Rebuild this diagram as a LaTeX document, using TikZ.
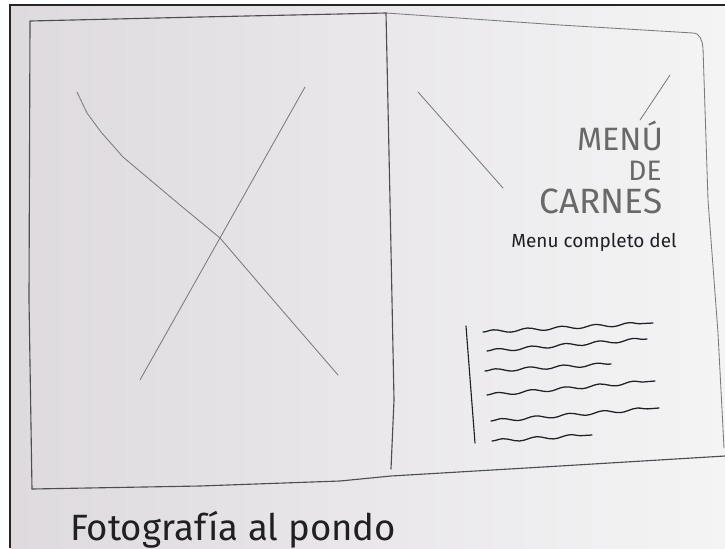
\documentclass[tikz,border=0pt]{standalone}
\usepackage{fontspec}
\setmainfont{Fira Sans}
\usetikzlibrary{decorations.pathmorphing}
\definecolor{paperl}{RGB}{222,218,222}
\definecolor{paperr}{RGB}{244,244,245}
\definecolor{pencil}{RGB}{78,78,80}
\definecolor{lead}{RGB}{32,32,35}
\tikzset{
	edge/.style={draw=pencil, line width=0.8pt, line join=round, line cap=round},
	faint/.style={edge, draw=pencil!75, line width=0.6pt},
	wave/.style={draw=lead, line width=0.9pt, line cap=round, decorate, decoration={snake, amplitude=0.04cm, segment length=0.85cm}},
	sketch/.style={text=pencil!85, inner sep=0pt},
	ink/.style={text=lead, inner sep=0pt}
}

\begin{document}
\begin{tikzpicture}[x=0.025cm, y=-0.025cm]
	\useasboundingbox (0,0) rectangle (725,548);
	\fill[white] (0,0) rectangle (725,548);
	\shade[left color=paperl, right color=paperr] (10,5) rectangle (725,548);
	\draw[black!85, line width=2pt] (10,548) -- (10,5) -- (725,5);

	\coordinate (tl) at (30,21);
	\coordinate (bl) at (32,489);
	\coordinate (tm) at (386,13);
	\coordinate (bm) at (391,469);
	\coordinate (tr) at (693,33);
	\coordinate (br) at (725,456);

	\draw[edge] (bl) -- (29,300) -- (tl) -- (200,17) -- (tm);
	\draw[faint] (tm) -- (560,25) -- (tr) to[out=0, in=95] (703,48) -- (708,200) -- (718,333) -- (724,448);
	\draw[edge] (tm) -- (390,200) -- (394,400) -- (bm);
	\draw[edge] (bl) -- (200,486) -- (340,481) -- (391,476) -- (560,466) -- (br);

	\draw[faint] (77,92) -- (87,113) -- (101,132) -- (123,157) -- (180,205) -- (220,238) -- (262,287) -- (338,375);
	\draw[faint] (305,87) -- (140,380);
	\draw[faint] (418,92) -- (503,188);
	\draw[faint] (670,75) -- (640,120);

	\node (menu) [sketch, anchor=base, font=\fontsize{23}{23}\selectfont] at (620,150) {MENÚ};
	\node (de) [sketch, anchor=base, font=\fontsize{20}{20}\selectfont] at (645,180) {DE};
	\node (carnes) [sketch, anchor=base, font=\fontsize{25}{25}\selectfont] at (601,213) {CARNES};
	\node (sub) [ink, anchor=base, font=\fontsize{13.5}{13.5}\selectfont] at (594,247) {Menu completo del};

	\draw[edge, draw=lead] (466,326) -- (475,443);
	\draw[wave] (483,332) -- (653,323);
	\draw[wave] (487,351) -- (647,339);
	\draw[wave] (485,371) -- (611,364);
	\draw[wave] (487,395) -- (655,381);
	\draw[wave] (491,421) -- (659,408);
	\draw[wave] (492,441) -- (592,435);

	\node (caption) [ink, anchor=base west, font=\fontsize{26}{26}\selectfont] at (70,540) {Fotografía al pondo};
\end{tikzpicture}
\end{document}
